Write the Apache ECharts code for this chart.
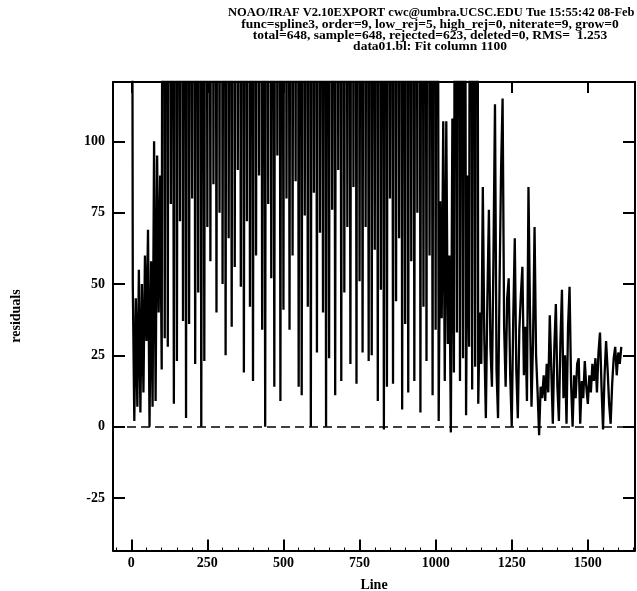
<!DOCTYPE html>
<html>
<head>
<meta charset="utf-8">
<script src="https://cdn.jsdelivr.net/npm/echarts@6/dist/echarts.min.js"></script>
<style>
  html, body { margin: 0; padding: 0; background: #fff; }
  #chart { width: 637px; height: 591px; }
</style>
</head>
<body>
<div id="chart"></div>
<script>
// Title lines of the icfit residual plot
const titleLines = [
  'NOAO/IRAF V2.10EXPORT cwc@umbra.UCSC.EDU Tue 15:55:42 08-Feb',
  'func=spline3, order=9, low_rej=5, high_rej=0, niterate=9, grow=0',
  'total=648, sample=648, rejected=623, deleted=0, RMS=  1.253',
  'data01.bl: Fit column 1100'
];
const xTicks = [0, 250, 500, 750, 1000, 1250, 1500];
const xMinorTicks = [-50, 50, 100, 150, 200, 300, 350, 400, 450, 550, 600, 650, 700, 800, 850, 900, 950,
  1050, 1100, 1150, 1200, 1300, 1350, 1400, 1450, 1550, 1600, 1650];
const yTicks = [-25, 0, 25, 50, 75, 100];
const lineStep = 5;

// Residuals, sampled every 5 lines, in three stretches of the column
const startA = 0;
const residualsA = [400, 50, 2, 45, 7, 55, 5, 50, 12, 60, 30, 69, 0, 58, 7, 100, 9, 95, 40, 88, 20];

// Rejected points (far off scale) alternate with the lower residuals
const startB = 105;
const residualsB = [
  420, 31, 380, 28, 450, 78, 300, 8, 500, 23, 350, 72, 420, 37, 390, 3, 460, 36, 330, 80,
  410, 22, 370, 47, 480, 0, 340, 23, 430, 70, 390, 58, 450, 85, 360, 40, 420, 75, 500, 50,
  380, 25, 440, 66, 350, 35, 470, 56, 400, 90, 360, 49, 430, 19, 390, 72, 480, 42, 340, 16,
  420, 60, 380, 88, 450, 34, 330, 0, 410, 78, 490, 52, 360, 14, 440, 95, 400, 9, 350, 41,
  460, 80, 380, 34, 420, 60, 340, 86, 470, 14, 390, 11, 430, 74, 360, 42, 500, 0, 410, 82,
  370, 26, 450, 68, 330, 40, 420, 0, 390, 24, 460, 76, 350, 11, 440, 90, 380, 16, 470, 47,
  400, 70, 360, 22, 430, 84, 390, 15, 480, 51, 340, 26, 420, 70, 380, 23, 450, 25, 330, 62,
  410, 9, 490, 48, 360, -1, 440, 14, 400, 80, 350, 15, 460, 44, 380, 66, 420, 6, 340, 36,
  470, 12, 390, 58, 430, 16, 360, 75, 500, 5, 410, 42, 370, 23, 450, 60, 330, 11, 420, 34,
  400, 2, 79, 38, 107, 16, 107, 29, 60, -2, 108, 19, 300, 33, 380, 16, 300, 24, 330, 4,
  88, 28, 400, 13, 360, 21, 430, 8
];

const startC = 1145;
const residualsC = [
  40, 22, 84, 30, 3, 45, 76, 28, 14, 60,
  113, 20, 3, 50, 90, 115, 35, 14, 45, 52,
  18, 0, 38, 66, 20, 3, 34, 46, 56, 18,
  35, 9, 84, 40, 7, 30, 70, 25, 12, -3,
  14, 10, 18, 9, 22, 12, 39, 20, 1, 28,
  43, 14, 2, 30, 48, 10, 25, 1, 35, 49,
  15, 0, 18, 10, 22, 24, 1, 16, 10, 23,
  14, 8, 18, 12, 22, 16, 24, 12, 26, 33,
  14, -1, 18, 30, 20, 8, 1, 15, 24, 28,
  18, 26, 22, 28
];

function toPoints(start, values) {
  return values.map((v, i) => [start + i * lineStep, v]);
}
const seriesData = [].concat(
  toPoints(startA, residualsA),
  toPoints(startB, residualsB),
  toPoints(startC, residualsC)
);

const FONT = '"Liberation Serif", "DejaVu Serif", serif';
const tickStyle = { color: '#000', width: 2 };

const chart = echarts.init(document.getElementById('chart'), null, { renderer: 'canvas' });

const titleGraphics = titleLines.map((t, i) => ({
  type: 'text',
  x: i === 0 ? 228 : 430,
  y: 6 + i * 11.3,
  style: {
    text: t,
    fill: '#000',
    font: 'bold ' + (i === 0 ? 12.5 : 13.5) + 'px ' + FONT,
    textAlign: i === 0 ? 'left' : 'center',
    textVerticalAlign: 'top'
  },
  silent: true
}));

const plainNumber = v => String(v);

chart.setOption({
  animation: false,
  backgroundColor: '#fff',
  grid: { left: 113, top: 82, right: 2, bottom: 40.5, containLabel: false },
  xAxis: [
    {
      type: 'value', position: 'bottom', min: -60, max: 1655,
      axisLine: { show: true, onZero: false, lineStyle: { color: '#000', width: 2 } },
      axisTick: { show: true, inside: true, length: 11, lineStyle: tickStyle, customValues: xTicks },
      axisLabel: { show: true, customValues: xTicks, formatter: plainNumber, margin: 6, color: '#000', fontFamily: FONT, fontWeight: 'bold', fontSize: 14 },
      splitLine: { show: false }
    },
    {
      type: 'value', position: 'top', min: -60, max: 1655,
      axisLine: { show: true, onZero: false, lineStyle: { color: '#000', width: 2 } },
      axisTick: { show: true, inside: true, length: 11, lineStyle: tickStyle, customValues: xTicks },
      axisLabel: { show: false },
      splitLine: { show: false }
    },
    {
      type: 'value', position: 'bottom', min: -60, max: 1655,
      axisLine: { show: false, onZero: false },
      axisTick: { show: true, inside: true, length: 3, lineStyle: { color: '#000', width: 1 }, customValues: xMinorTicks },
      axisLabel: { show: false },
      splitLine: { show: false }
    }
  ],
  yAxis: [
    {
      type: 'value', position: 'left', min: -43.4, max: 120.8,
      axisLine: { show: true, onZero: false, lineStyle: { color: '#000', width: 2 } },
      axisTick: { show: true, inside: true, length: 12, lineStyle: tickStyle, customValues: yTicks },
      axisLabel: { show: true, customValues: yTicks, formatter: plainNumber, margin: 8, color: '#000', fontFamily: FONT, fontWeight: 'bold', fontSize: 14 },
      splitLine: { show: false }
    },
    {
      type: 'value', position: 'right', min: -43.4, max: 120.8,
      axisLine: { show: true, onZero: false, lineStyle: { color: '#000', width: 2 } },
      axisTick: { show: true, inside: true, length: 12, lineStyle: tickStyle, customValues: yTicks },
      axisLabel: { show: false },
      splitLine: { show: false }
    }
  ],
  graphic: titleGraphics.concat([
    {
      type: 'text', x: 374, y: 585,
      style: { text: 'Line', fill: '#000', font: 'bold 14px ' + FONT, textAlign: 'center', textVerticalAlign: 'middle' },
      silent: true
    },
    {
      type: 'text', x: 16, y: 316, rotation: Math.PI / 2,
      style: { text: 'residuals', fill: '#000', font: 'bold 14px ' + FONT, textAlign: 'center', textVerticalAlign: 'middle' },
      silent: true
    }
  ]),
  series: [
    {
      type: 'line',
      xAxisIndex: 0, yAxisIndex: 0,
      data: seriesData,
      showSymbol: false,
      symbol: 'none',
      clip: true,
      lineStyle: { color: '#000', width: 2.3 },
      markLine: {
        silent: true,
        symbol: ['none', 'none'],
        label: { show: false },
        lineStyle: { color: '#000', width: 1.5, type: [9, 5] },
        data: [{ yAxis: 0 }]
      }
    }
  ]
});
</script>
</body>
</html>
